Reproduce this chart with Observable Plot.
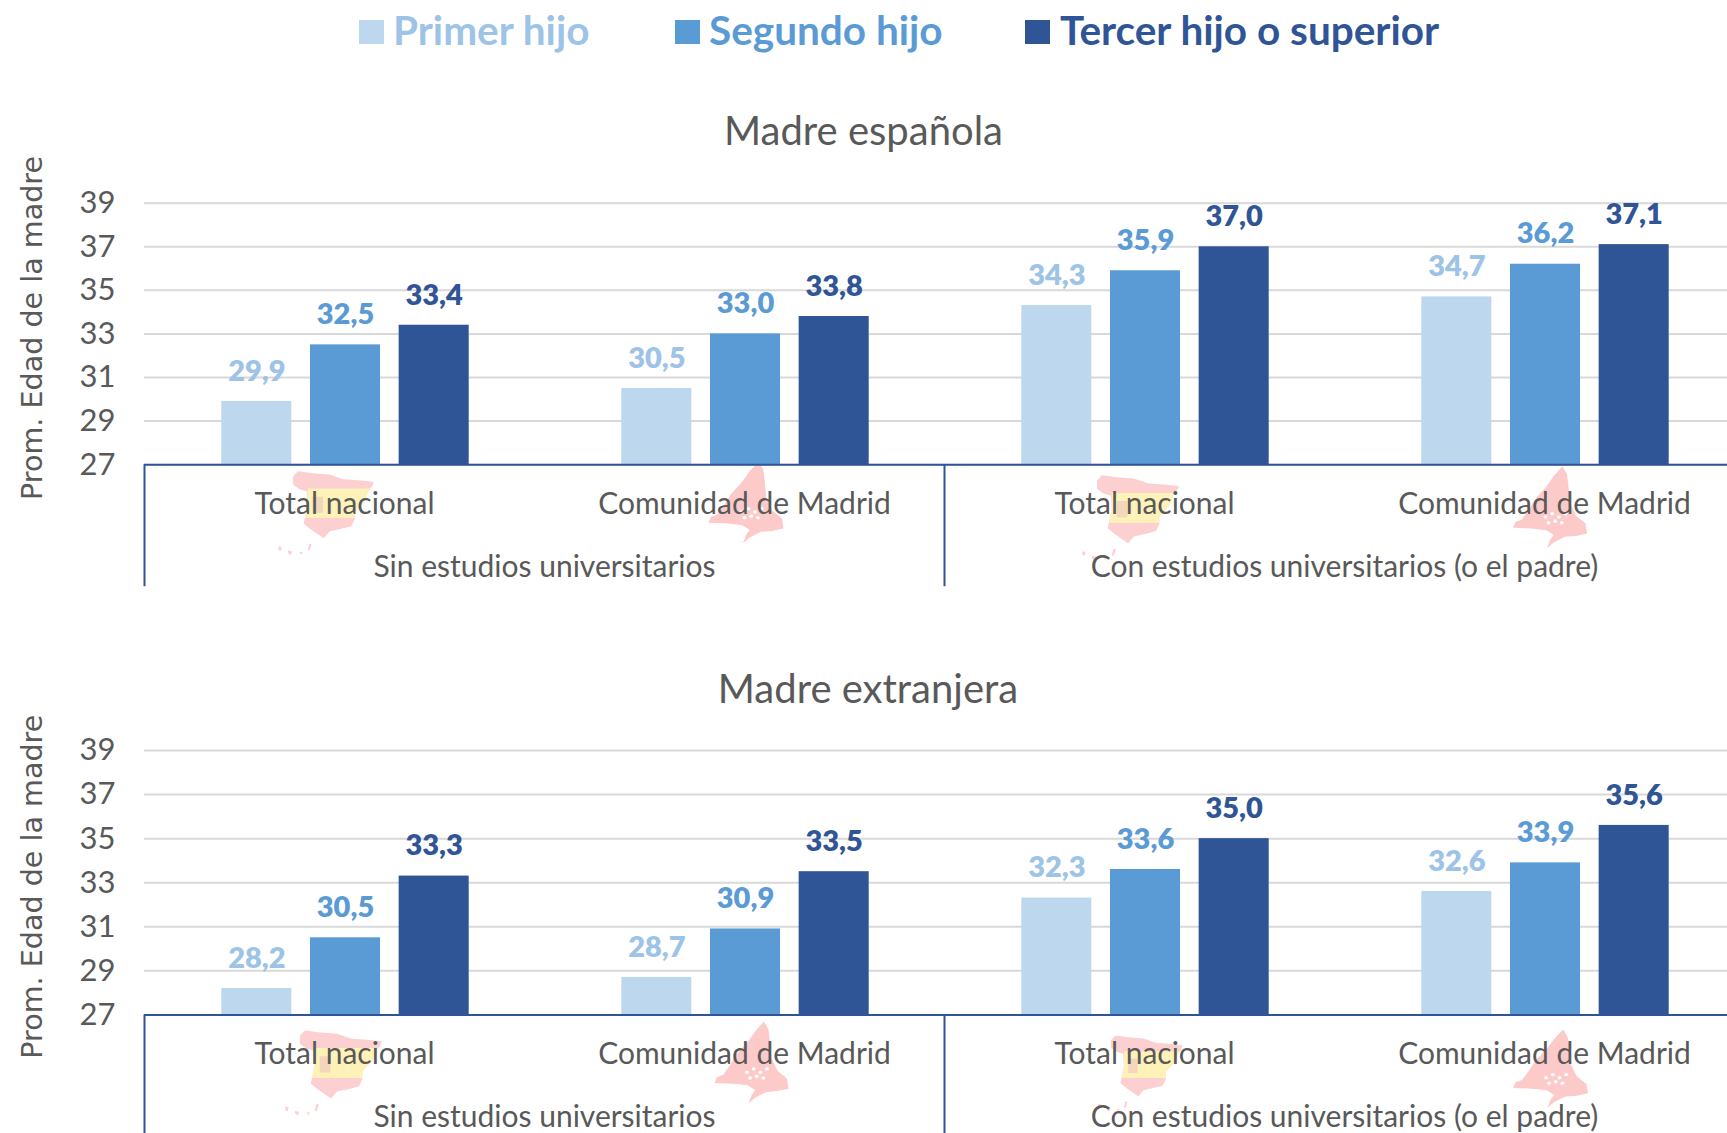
<!DOCTYPE html>
<html lang="es">
<head>
<meta charset="utf-8">
<script src="https://cdn.jsdelivr.net/npm/d3@7"></script>
<script src="https://cdn.jsdelivr.net/npm/@observablehq/plot@0.6"></script>
<style>
  html, body { margin: 0; padding: 0; background: #fff; overflow: hidden; width: 1727px; height: 1133px; }
  body { font-family: Lato, sans-serif; }
  #legend { position: relative; height: 60px; font-weight: 700; font-size: 40.5px; }
  #legend .sw { position: absolute; top: 20px; width: 25px; height: 24px; }
  #legend .lb { position: absolute; top: 6px; line-height: 48px; white-space: nowrap; }
  .title { text-align: center; color: #595959; font-size: 40px; line-height: 50px; height: 50px; }
  svg { display: block; max-width: none !important; background: transparent !important; }
</style>
</head>
<body>
<div id="legend"></div>
<div class="title" id="t1" style="margin-top:45px;width:1727px"></div>
<div id="p1"></div>
<div class="title" id="t2" style="margin-top:63px;width:1736px"></div>
<div id="p2" style="margin-top:2px"></div>
<script>
const seriesNames = ["Primer hijo", "Segundo hijo", "Tercer hijo o superior"];
const studyGroups = ["Sin estudios universitarios", "Con estudios universitarios (o el padre)"];
const regions = ["Total nacional", "Comunidad de Madrid"];
const panelTitles = ["Madre española", "Madre extranjera"];
const yTicks = [27, 29, 31, 33, 35, 37, 39];
const yTitle = "Prom. Edad de la madre";

const espanolaPrimer  = [29.9, 30.5, 34.3, 34.7];
const espanolaSegundo = [32.5, 33.0, 35.9, 36.2];
const espanolaTercer  = [33.4, 33.8, 37.0, 37.1];
const extranjeraPrimer  = [28.2, 28.7, 32.3, 32.6];
const extranjeraSegundo = [30.5, 30.9, 33.6, 33.9];
const extranjeraTercer  = [33.3, 33.5, 35.0, 35.6];

const barColors = ["#bdd7ee", "#5b9bd5", "#2f5597"];
const labelColors = ["#9dc3e6", "#5b9bd5", "#2f5597"];
const ink = "#595959";

// Decorative map insets (pale silhouettes behind the axis labels), unit box 0–100
const spainOutline = "M0,8L6,0L25,3L45,5L62,12L85,14L100,16L97,24L93,30L88,45L76,60L76,72L72,82L60,86L45,90L38,100L28,92L20,85L13,78L15,68L18,50L17,30L8,27L0,20Z";
const spainBand = "M18,26L96,26L93,30L88,45L76,60L76,70L15,70L15,68L18,50Z";
const spainIslands = "M-18,112l4,1l-1,6l-3,-2ZM-6,118l5,2l-2,5l-3,-3ZM8,120l4,1l-2,4ZM20,108l3,1l-3,10l-2,-1Z";
const madridOutline = "M67,0L73,10L75,25L77,45L85,60L98,70L100,82L85,85L70,86L55,93L46,100L50,90L55,84L45,78L25,76L0,75L3,68L12,65L22,52L30,40L45,25L55,12Z";
const madridStars = [[44, 62], [53, 58], [62, 62], [71, 58], [48, 69], [57, 67], [66, 69]];

const mapBoxes = [
  [{dx: -51, dy: 7, w: 81, h: 67}, {dx: -35.5, dy: -3, w: 75, h: 82}, {dx: -47, dy: 11, w: 82, h: 68}, {dx: -31, dy: 2, w: 74, h: 82}],
  [{dx: -44, dy: 16, w: 82, h: 68}, {dx: -29.5, dy: 7, w: 74, h: 82}, {dx: -33, dy: 21, w: 72, h: 61}, {dx: -31, dy: 15, w: 75, h: 78}]
];

// Legend
const legend = d3.select("#legend");
[[359, 393], [675, 709], [1025, 1060]].forEach(([sx, tx], i) => {
  legend.append("div").attr("class", "sw").style("left", sx + "px").style("background", barColors[i]);
  legend.append("div").attr("class", "lb").style("left", tx + "px").style("color", labelColors[i]).text(seriesNames[i]);
});
d3.select("#t1").text(panelTitles[0]);
d3.select("#t2").text(panelTitles[1]);

const keys = studyGroups.flatMap(g => regions.map(r => g + "|" + r));
const comma = v => v.toFixed(1).replace(".", ",");

function mapMark(rows) {
  return Plot.dot(rows, {
    x: null, y: null, fx: "key",
    render(index, scales, values, dims) {
      const row = rows[index[0]];
      const b = row.box;
      const base = dims.height - dims.marginBottom;
      const cx = dims.marginLeft + 200;
      const outer = d3.create("svg:g");
      const g = outer.append("g").attr("transform",
        `translate(${cx + b.dx},${base + b.dy}) scale(${b.w / 100},${b.h / 100})`);
      if (row.region === regions[0]) {
        g.append("path").attr("d", spainOutline).attr("fill", "#fcd0d0");
        g.append("path").attr("d", spainBand).attr("fill", "#fff2b8");
        g.append("rect").attr("x", 24).attr("y", 38).attr("width", 13).attr("height", 24).attr("fill", "#f3d6bc");
        g.append("path").attr("d", spainIslands).attr("fill", "#fcd0d0");
      } else {
        g.append("path").attr("d", madridOutline).attr("fill", "#fdcaca");
        madridStars.forEach(([x, y]) => g.append("ellipse").attr("cx", x).attr("cy", y)
          .attr("rx", 2.6).attr("ry", 2.2).attr("fill", "#fff"));
      }
      return outer.node();
    }
  });
}

function panel(sel, arrays, opts, panelIndex) {
  const rows = keys.flatMap((key, k) => seriesNames.map((s, i) => ({key, series: s, value: arrays[i][k]})));
  const mapRows = keys.map((key, k) => ({key, region: regions[k % 2], box: mapBoxes[panelIndex][k]}));
  const dividers = [keys[0], keys[2]].map(key => ({key}));
  const groupRows = [{key: keys[1], label: studyGroups[0]}, {key: keys[3], label: studyGroups[1]}];
  const chart = Plot.plot({
    width: 1727, height: opts.height,
    marginLeft: 144, marginRight: 0, marginTop: opts.top, marginBottom: opts.bottom,
    style: {fontFamily: 'Lato, sans-serif', background: "transparent", overflow: "hidden"},
    fx: {domain: keys, range: [144, 1744], padding: 0, round: false, label: null},
    x: {domain: seriesNames, range: [212, 478], paddingInner: 0.21, paddingOuter: 0.105, round: false, axis: null, label: null},
    y: {domain: [27, 39], label: null},
    color: {domain: seriesNames, range: barColors},
    marks: [
      Plot.gridY(yTicks, {stroke: "#d9d9d9", strokeWidth: 2, strokeOpacity: 1}),
      mapMark(mapRows),
      Plot.barY(rows, {fx: "key", x: "series", y1: () => 27, y2: "value", fill: "series"}),
      Plot.ruleY([27], {stroke: "#2f5597", strokeWidth: 2}),
      Plot.ruleX(dividers, {fx: "key", x: null, y1: 27, y2: opts.ruleEnd, dx: -200, stroke: "#2f5597", strokeWidth: 2}),
      Plot.axisY({ticks: yTicks, tickSize: 0, tickPadding: 29, fontSize: 31, label: null, color: ink, anchor: "left"}),
      Plot.axisFx({anchor: "bottom", tickSize: 0, tickPadding: 28, fontSize: 30, color: ink, label: null, tickFormat: d => d.split("|")[1]}),
      Plot.text(groupRows, {fx: "key", text: "label", frameAnchor: "bottom", dx: -200, dy: 112, fontSize: 30, fill: ink}),
      Plot.text(rows, {fx: "key", x: "series", y: "value", text: d => comma(d.value), dy: -30, fontSize: 29, fontWeight: 800,
        fill: d => labelColors[seriesNames.indexOf(d.series)]}),
      Plot.text([{key: keys[0], t: yTitle}], {fx: "key", text: "t", frameAnchor: "left", textAnchor: "middle", rotate: -90, dx: -112, dy: opts.titleDy,
        fontSize: 28.6, fontFamily: "DejaVu Sans", fill: ink})
    ]
  });
  document.querySelector(sel).append(chart);
}

panel("#p1", [espanolaPrimer, espanolaSegundo, espanolaTercer],
  {height: 445, top: 47.7, bottom: 135.8, ruleEnd: 21.4, titleDy: -6}, 0);
panel("#p2", [extranjeraPrimer, extranjeraSegundo, extranjeraTercer],
  {height: 418, top: 35, bottom: 118.6, ruleEnd: 20, titleDy: 4}, 1);
</script>
</body>
</html>
